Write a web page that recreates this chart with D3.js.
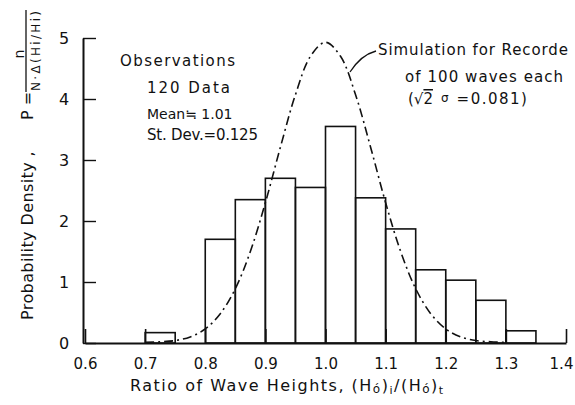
<!DOCTYPE html>
<html>
<head>
<meta charset="utf-8">
<script src="https://cdn.jsdelivr.net/npm/d3@7"></script>
<style>
  html, body { margin: 0; padding: 0; background: #fff; }
  svg { display: block; font-family: "DejaVu Sans", sans-serif; }
</style>
</head>
<body>
<svg id="chart" width="575" height="405"></svg>
<script>
// Histogram of observed wave-height ratios (bin width 0.05)
const binStarts = [0.70, 0.80, 0.85, 0.90, 0.95, 1.00, 1.05, 1.10, 1.15, 1.20, 1.25, 1.30];
const density   = [0.17, 1.70, 2.35, 2.70, 2.55, 3.55, 2.38, 1.87, 1.20, 1.03, 0.70, 0.20];
const binWidth = 0.05;

// Simulated distribution curve (records of 100 waves each)
const simX = [0.70, 0.725, 0.75, 0.775, 0.80, 0.825, 0.85, 0.875, 0.90, 0.925, 0.95, 0.975, 1.00,
              1.025, 1.05, 1.075, 1.10, 1.125, 1.15, 1.175, 1.20, 1.225, 1.25, 1.275, 1.30];
const simY = [0.01, 0.02, 0.04, 0.10, 0.23, 0.48, 0.89, 1.50, 2.30, 3.21, 4.07, 4.70, 4.93,
              4.70, 4.07, 3.21, 2.30, 1.50, 0.89, 0.48, 0.23, 0.10, 0.04, 0.02, 0.01];

// Axis ticks
const xTicks = [0.6, 0.7, 0.8, 0.9, 1.0, 1.1, 1.2, 1.3, 1.4];
const xTickLabels = ["0.6", "0.7", "0.8", "0.9", "1.0", "1.1", "1.2", "1.3", "1.4"];
const yTicks = [0, 1, 2, 3, 4, 5];

const svg = d3.select("#chart");
const x = d3.scaleLinear().domain([0.6, 1.4]).range([85, 566]);
const y = d3.scaleLinear().domain([0, 5]).range([343, 38]);

const ink = "#111";

// Bars
svg.append("g")
  .selectAll("rect")
  .data(binStarts.map((b, i) => ({ b, v: density[i] })))
  .join("rect")
  .attr("x", d => x(d.b))
  .attr("y", d => y(d.v))
  .attr("width", d => x(d.b + binWidth) - x(d.b))
  .attr("height", d => y(0) - y(d.v))
  .attr("fill", "none")
  .attr("stroke", ink)
  .attr("stroke-width", 1.6);

// X axis (ticks point inward)
const xAxis = svg.append("g")
  .attr("transform", `translate(0,${y(0)})`)
  .call(d3.axisBottom(x).tickValues(xTicks)
        .tickFormat((d, i) => xTickLabels[i])
        .tickSizeInner(-14).tickSizeOuter(0).tickPadding(15));
xAxis.select(".domain").attr("stroke", ink).attr("stroke-width", 2);
xAxis.selectAll(".tick line").attr("stroke", ink).attr("stroke-width", 1.6);
xAxis.selectAll(".tick text")
  .attr("font-size", 15).attr("fill", ink)
  .attr("font-family", "DejaVu Sans, sans-serif");
// keep the last label inside the frame
xAxis.selectAll(".tick text").filter(d => d === 1.4).attr("dx", -5);

// Y axis (ticks point inward)
const yAxis = svg.append("g")
  .attr("transform", `translate(${x(0.6) - 2},0)`)
  .call(d3.axisLeft(y).tickValues(yTicks).tickFormat(d3.format("d"))
        .tickSizeInner(-13).tickSizeOuter(0).tickPadding(19));
yAxis.select(".domain").attr("stroke", ink).attr("stroke-width", 2);
yAxis.selectAll(".tick line").attr("stroke", ink).attr("stroke-width", 1.4);
yAxis.selectAll(".tick text")
  .attr("font-size", 16).attr("fill", ink)
  .attr("font-family", "DejaVu Sans, sans-serif")
  .attr("text-anchor", "middle");

// Simulation curve, dash-dot
const line = d3.line()
  .x((d, i) => x(simX[i]))
  .y(d => y(d))
  .curve(d3.curveCatmullRom);
svg.append("path")
  .attr("d", line(simY))
  .attr("fill", "none")
  .attr("stroke", ink)
  .attr("stroke-width", 1.6)
  .attr("stroke-dasharray", "9,4,2,4");

// Annotations
const note = (tx, ty, str, len, fs) => {
  const t = svg.append("text")
    .attr("x", tx).attr("y", ty)
    .attr("font-size", fs || 15).attr("fill", ink)
    .text(str);
  if (len) t.attr("textLength", len).attr("lengthAdjust", "spacing");
  return t;
};

note(120, 66, "Observations", 115);
note(147, 93, "120 Data", 83);
note(147, 119, "Mean\u2252 1.01", null, 14);
note(147, 140, "St. Dev.=0.125", 111);

note(378, 55, "Simulation for Recorde", 190);
note(405, 82, "of 100 waves each", 158);

// (√2 σ = 0.081)
const sig = svg.append("text").attr("x", 408).attr("y", 104)
  .attr("font-size", 15).attr("fill", ink);
sig.append("tspan").text("(\u221A");
sig.append("tspan").attr("text-decoration", "overline").text("2");
sig.append("tspan").attr("dx", 8).attr("font-size", 12).attr("dy", -2).text("\u03C3");
sig.append("tspan").attr("dx", 8).attr("dy", 2).attr("letter-spacing", 1.5).text("=0.081)");

// Leader from label to curve
svg.append("path")
  .attr("d", "M376,51 Q361,55 350,72")
  .attr("fill", "none").attr("stroke", ink).attr("stroke-width", 1.3);

// X axis title with primed subscripts
const xt = svg.append("text").attr("x", 130).attr("y", 391)
  .attr("font-size", 16).attr("fill", ink).attr("letter-spacing", 1.5);
xt.append("tspan").text("Ratio of Wave Heights, (H");
xt.append("tspan").attr("font-size", 12).attr("dy", 2).text("\u00F3");
xt.append("tspan").attr("dy", -2).text(")");
xt.append("tspan").attr("font-size", 11).attr("dy", 3).text("i");
xt.append("tspan").attr("dy", -3).text("/(H");
xt.append("tspan").attr("font-size", 12).attr("dy", 2).text("\u00F3");
xt.append("tspan").attr("dy", -2).text(")");
xt.append("tspan").attr("font-size", 11).attr("dy", 3).text("t");

// Y axis title with fraction
const yt = svg.append("g").attr("transform", "translate(33,320) rotate(-90)");
yt.append("text").attr("x", 0).attr("y", 0)
  .attr("font-size", 16).attr("fill", ink).attr("letter-spacing", 0.4)
  .text("Probability Density ,");
yt.append("text").attr("x", 200).attr("y", 0)
  .attr("font-size", 16).attr("fill", ink).text("P =");
// fraction: numerator, bar, denominator
yt.append("text").attr("x", 266).attr("y", -9)
  .attr("font-size", 14).attr("fill", ink).attr("text-anchor", "middle").text("n");
yt.append("line").attr("x1", 228).attr("x2", 310).attr("y1", -7).attr("y2", -7)
  .attr("stroke", ink).attr("stroke-width", 1.3);
yt.append("text").attr("x", 229).attr("y", 7)
  .attr("font-size", 12).attr("fill", ink)
  .attr("textLength", 80).attr("lengthAdjust", "spacing")
  .text("N\u00B7\u0394(Hi/Hi)");
</script>
</body>
</html>
